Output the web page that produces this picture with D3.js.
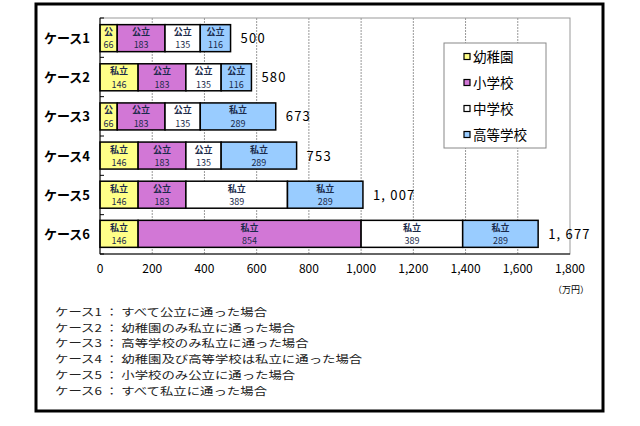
<!DOCTYPE html>
<html>
<head>
  <meta charset="utf-8">
  <script src="https://cdn.jsdelivr.net/npm/d3@7"></script>
  <style>
    body { margin: 0; background: #fff; }
    text { font-family: "Noto Sans CJK JP", sans-serif; }
  </style>
</head>
<body>
  <div id="chart"></div>
  <script>
    const categories = ["ケース1", "ケース2", "ケース3", "ケース4", "ケース5", "ケース6"];
    const stages = ["幼稚園", "小学校", "中学校", "高等学校"];
    const kindergarten = [66, 146, 66, 146, 146, 146];
    const kindergartenType = ["公立", "私立", "公立", "私立", "私立", "私立"];
    const elementary = [183, 183, 183, 183, 183, 854];
    const elementaryType = ["公立", "公立", "公立", "公立", "公立", "私立"];
    const junior = [135, 135, 135, 135, 389, 389];
    const juniorType = ["公立", "公立", "公立", "公立", "私立", "私立"];
    const high = [116, 116, 289, 289, 289, 289];
    const highType = ["公立", "公立", "私立", "私立", "私立", "私立"];
    const totalLabels = ["500", "580", "673", "753", "1, 007", "1, 677"];
    const xTicks = [0, 200, 400, 600, 800, 1000, 1200, 1400, 1600, 1800];
    const notes = [
      "ケース1 ： すべて公立に通った場合",
      "ケース2 ： 幼稚園のみ私立に通った場合",
      "ケース3 ： 高等学校のみ私立に通った場合",
      "ケース4 ： 幼稚園及び高等学校は私立に通った場合",
      "ケース5 ： 小学校のみ公立に通った場合",
      "ケース6 ： すべて私立に通った場合"
    ];

    const colors = ["#ffff88", "#d277d6", "#ffffff", "#99ccff"];
    const values = [kindergarten, elementary, junior, high];
    const types = [kindergartenType, elementaryType, juniorType, highType];

    const width = 640, height = 426;
    const svg = d3.select("#chart").append("svg")
      .attr("width", width).attr("height", height);

    // outer frame
    svg.append("rect")
      .attr("x", 36).attr("y", 4).attr("width", 567).attr("height", 407)
      .attr("fill", "#fff").attr("stroke", "#000").attr("stroke-width", 3);

    const x = d3.scaleLinear().domain([0, 1800]).range([100, 570]);
    const y = d3.scaleBand().domain(categories).range([18, 254])
      .paddingInner(0.31).paddingOuter(0.17);

    // plot area frame + grid
    svg.append("rect")
      .attr("x", x(0)).attr("y", 18).attr("width", x(1800) - x(0)).attr("height", 236)
      .attr("fill", "none").attr("stroke", "#999").attr("stroke-width", 1);

    svg.append("g").selectAll("line")
      .data(xTicks.slice(1, -1))
      .join("line")
        .attr("x1", d => x(d)).attr("x2", d => x(d))
        .attr("y1", 18).attr("y2", 254)
        .attr("stroke", "#999").attr("stroke-dasharray", "2,1");

    // stacked data
    const rows = categories.map((c, i) => {
      let acc = 0;
      return values.map((v, k) => {
        const seg = { cat: c, k, x0: acc, x1: acc + v[i], v: v[i], type: types[k][i] };
        acc += v[i];
        return seg;
      });
    });

    const bars = svg.append("g");
    rows.forEach(row => {
      const g = bars.append("g");
      g.selectAll("rect")
        .data(row)
        .join("rect")
          .attr("x", d => x(d.x0))
          .attr("y", d => y(d.cat))
          .attr("width", d => x(d.x1) - x(d.x0))
          .attr("height", y.bandwidth())
          .attr("fill", d => colors[d.k])
          .attr("stroke", "#000").attr("stroke-width", 1.5);

      g.selectAll("text.t")
        .data(row)
        .join("text")
          .attr("class", "t")
          .attr("x", d => (x(d.x0) + x(d.x1)) / 2)
          .attr("y", d => y(d.cat) + 10.5)
          .attr("text-anchor", "middle")
          .attr("font-size", 9).attr("font-weight", "bold")
          .attr("fill", "#1a2a4a")
          .text(d => (x(d.x1) - x(d.x0) < 22 ? d.type.slice(0, 1) : d.type));

      g.selectAll("text.v")
        .data(row)
        .join("text")
          .attr("class", "v")
          .attr("x", d => (x(d.x0) + x(d.x1)) / 2)
          .attr("y", d => y(d.cat) + 23.8)
          .attr("text-anchor", "middle")
          .attr("font-size", 9)
          .attr("fill", "#1a2a4a")
          .text(d => d.v);
    });

    // totals
    svg.append("g").selectAll("text")
      .data(categories)
      .join("text")
        .attr("x", (c, i) => x(rows[i][3].x1) + 10)
        .attr("y", c => y(c) + y.bandwidth() / 2 + 5)
        .attr("font-size", 13)
        .attr("letter-spacing", 1.2)
        .attr("xml:space", "preserve")
        .text((c, i) => totalLabels[i]);

    // y axis
    svg.append("line")
      .attr("x1", x(0)).attr("x2", x(0)).attr("y1", 18).attr("y2", 254)
      .attr("stroke", "#000");
    svg.append("g").selectAll("line")
      .data(d3.range(categories.length + 1))
      .join("line")
        .attr("x1", x(0)).attr("x2", x(0) + 4)
        .attr("y1", i => 18 + i * 236 / categories.length)
        .attr("y2", i => 18 + i * 236 / categories.length)
        .attr("stroke", "#000");
    svg.append("g").selectAll("text")
      .data(categories)
      .join("text")
        .attr("x", 90)
        .attr("y", c => y(c) + y.bandwidth() / 2 + 5)
        .attr("text-anchor", "end")
        .attr("font-size", 13).attr("font-weight", "bold")
        .text(c => c);

    // x axis
    svg.append("line")
      .attr("x1", x(0)).attr("x2", x(1800)).attr("y1", 254).attr("y2", 254)
      .attr("stroke", "#000");
    svg.append("g").selectAll("text")
      .data(xTicks)
      .join("text")
        .attr("x", d => x(d))
        .attr("y", 273)
        .attr("text-anchor", "middle")
        .attr("font-size", 12)
        .text(d => d3.format(",")(d));
    svg.append("text")
      .attr("x", 571).attr("y", 293)
      .attr("text-anchor", "middle")
      .attr("font-size", 9)
      .text("（万円）");

    // legend
    svg.append("rect")
      .attr("x", 444).attr("y", 43).attr("width", 102).attr("height", 105)
      .attr("fill", "#fff").attr("stroke", "#888");
    const leg = svg.append("g").selectAll("g")
      .data(stages)
      .join("g")
        .attr("transform", (d, i) => `translate(469, ${57 + i * 26})`);
    leg.append("rect")
      .attr("x", -5).attr("y", -3.5).attr("width", 6).attr("height", 6)
      .attr("fill", (d, i) => colors[i]).attr("stroke", "#000").attr("stroke-width", 1.2);
    leg.append("text")
      .attr("x", 4).attr("y", 5)
      .attr("font-size", 13.5)
      .text(d => d);

    // notes
    svg.append("g").selectAll("text")
      .data(notes)
      .join("text")
        .attr("transform", (d, i) => `translate(55, ${316 + i * 15.7}) scale(1.24, 1)`)
        .attr("font-size", 10.8)
        .attr("fill", "#222")
        .text(d => d);
  </script>
</body>
</html>
